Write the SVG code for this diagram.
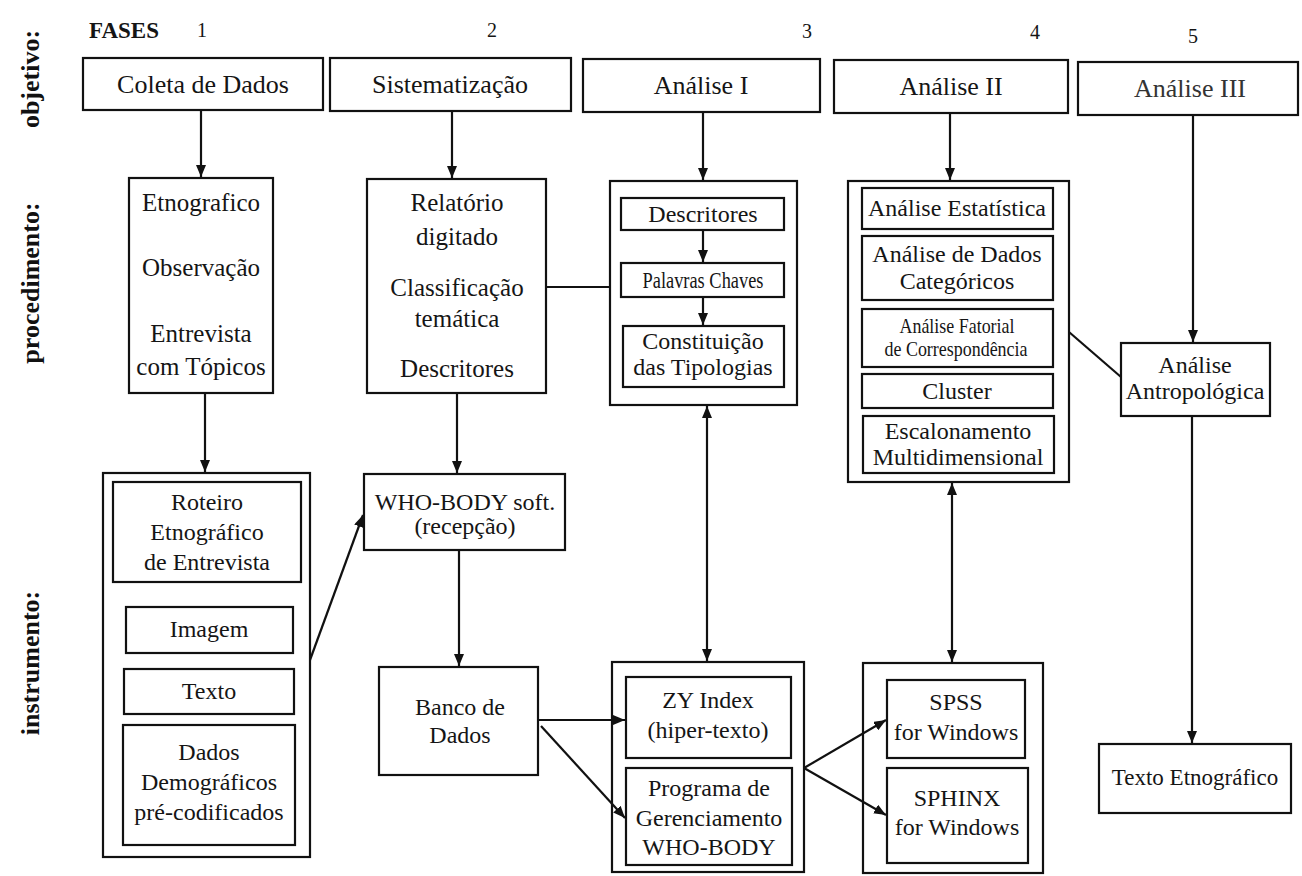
<svg xmlns="http://www.w3.org/2000/svg" width="1302" height="876" viewBox="0 0 1302 876">
<style>
.bx{fill:none;stroke:#111;stroke-width:2.2}
.t{font-family:"Liberation Serif","Times New Roman",serif;font-size:24px;fill:#151515;text-anchor:middle;dominant-baseline:central}
.o{font-size:26px}
.p{font-size:25px}
.h{font-family:"Liberation Serif","Times New Roman",serif;font-size:20px;fill:#151515;text-anchor:middle}
.lb{font-family:"Liberation Serif","Times New Roman",serif;font-size:26px;font-weight:bold;fill:#111;text-anchor:middle;dominant-baseline:central}
.c{fill:none;stroke:#111;stroke-width:2.2}
.a{marker-end:url(#ah)}
.d{marker-start:url(#ah);marker-end:url(#ah)}
</style>
<defs>
<marker id="ah" viewBox="0 0 12 10" refX="12" refY="5" markerWidth="12" markerHeight="10" markerUnits="userSpaceOnUse" orient="auto-start-reverse">
<path d="M0,0 L12,5 L0,10 z" fill="#111"/>
</marker>
</defs>
<rect width="1302" height="876" fill="#fff"/>

<g id="header">
<text x="124" y="38" class="h" style="font-weight:bold;font-size:23px">FASES</text>
<text x="202" y="37" class="h">1</text>
<text x="492" y="37" class="h">2</text>
<text x="807" y="38" class="h">3</text>
<text x="1035" y="39" class="h">4</text>
<text x="1193" y="43" class="h">5</text>
</g>

<g id="row-labels">
<text class="lb" transform="translate(30,79) rotate(-90)">objetivo:</text>
<text class="lb" transform="translate(30,283) rotate(-90)">procedimento:</text>
<text class="lb" transform="translate(30,663) rotate(-90)">instrumento:</text>
</g>

<g id="obj-coleta"><rect class="bx" x="83" y="58" width="240" height="52"/><text class="t o" x="203" y="84">Coleta de Dados</text></g>
<g id="obj-sistematizacao"><rect class="bx" x="330" y="58" width="241" height="53"/><text class="t o" x="450" y="84">Sistematização</text></g>
<g id="obj-analise1"><rect class="bx" x="583" y="59" width="237" height="53"/><text class="t o" x="701" y="85">Análise I</text></g>
<g id="obj-analise2"><rect class="bx" x="834" y="60" width="234" height="53"/><text class="t o" x="951" y="86">Análise II</text></g>
<g id="obj-analise3"><rect class="bx" x="1078" y="62" width="220" height="53"/><text class="t o" x="1190" y="88" style="fill:#333">Análise III</text></g>

<g id="proc-etnografico"><rect class="bx" x="129" y="178" width="144" height="215"/>
<text class="t p" x="201" y="202">Etnografico</text>
<text class="t p" x="201" y="267">Observação</text>
<text class="t p" x="201" y="333">Entrevista</text>
<text class="t p" x="201" y="366">com Tópicos</text></g>

<g id="proc-relatorio"><rect class="bx" x="367" y="179" width="179" height="214"/>
<text class="t p" x="457" y="202">Relatório</text>
<text class="t p" x="457" y="236">digitado</text>
<text class="t p" x="457" y="287">Classificação</text>
<text class="t p" x="457" y="318">temática</text>
<text class="t p" x="457" y="368">Descritores</text></g>

<g id="proc-analise1"><rect class="bx" x="610" y="181" width="187" height="224"/>
<rect class="bx" x="621" y="198" width="163" height="32"/><text class="t" x="703" y="214">Descritores</text>
<rect class="bx" x="621" y="263" width="163" height="34"/><text class="t" x="703" y="280" textLength="121" lengthAdjust="spacingAndGlyphs" style="font-size:23px">Palavras Chaves</text>
<rect class="bx" x="623" y="326" width="161" height="61"/><text class="t" x="703" y="341">Constituição</text><text class="t" x="703" y="367">das Tipologias</text></g>

<g id="proc-analise2"><rect class="bx" x="848" y="181" width="221" height="301"/>
<rect class="bx" x="862" y="188" width="191" height="41"/><text class="t" x="957" y="208">Análise Estatística</text>
<rect class="bx" x="862" y="236" width="191" height="64"/><text class="t" x="957" y="254">Análise de Dados</text><text class="t" x="957" y="281">Categóricos</text>
<rect class="bx" x="862" y="309" width="191" height="58"/><text class="t" x="957" y="325" textLength="115" lengthAdjust="spacingAndGlyphs" style="font-size:22px">Análise Fatorial</text><text class="t" x="956" y="348" textLength="143" lengthAdjust="spacingAndGlyphs" style="font-size:22px">de Correspondência</text>
<rect class="bx" x="862" y="374" width="191" height="34"/><text class="t" x="957" y="391">Cluster</text>
<rect class="bx" x="863" y="416" width="191" height="57"/><text class="t" x="958" y="431">Escalonamento</text><text class="t" x="958" y="457">Multidimensional</text></g>

<g id="proc-antropologica"><rect class="bx" x="1121" y="343" width="149" height="73"/>
<text class="t" x="1195" y="365">Análise</text><text class="t" x="1195" y="391">Antropológica</text></g>

<g id="inst-col1"><rect class="bx" x="103" y="473" width="207" height="384"/>
<rect class="bx" x="113" y="482" width="188" height="100"/><text class="t" x="207" y="502">Roteiro</text><text class="t" x="207" y="532">Etnográfico</text><text class="t" x="207" y="562">de Entrevista</text>
<rect class="bx" x="126" y="607" width="167" height="46"/><text class="t" x="209" y="629">Imagem</text>
<rect class="bx" x="124" y="669" width="170" height="45"/><text class="t" x="209" y="691">Texto</text>
<rect class="bx" x="123" y="725" width="172" height="120"/><text class="t" x="209" y="752">Dados</text><text class="t" x="209" y="782">Demográficos</text><text class="t" x="209" y="812">pré-codificados</text></g>

<g id="inst-whobody"><rect class="bx" x="364" y="474" width="201" height="76"/>
<text class="t" x="465" y="502">WHO-BODY soft.</text><text class="t" x="465" y="526">(recepção)</text></g>

<g id="inst-banco"><rect class="bx" x="379" y="667" width="159" height="108"/>
<text class="t" x="460" y="707">Banco de</text><text class="t" x="460" y="735">Dados</text></g>

<g id="inst-zy"><rect class="bx" x="612" y="662" width="192" height="210"/>
<rect class="bx" x="626" y="677" width="165" height="81"/><text class="t" x="708" y="700">ZY Index</text><text class="t" x="708" y="730">(hiper-texto)</text>
<rect class="bx" x="626" y="768" width="166" height="97"/><text class="t" x="709" y="788">Programa de</text><text class="t" x="709" y="818">Gerenciamento</text><text class="t" x="709" y="847">WHO-BODY</text></g>

<g id="inst-spss"><rect class="bx" x="863" y="663" width="180" height="210"/>
<rect class="bx" x="887" y="680" width="138" height="78"/><text class="t" x="956" y="702">SPSS</text><text class="t" x="956" y="732">for Windows</text>
<rect class="bx" x="887" y="768" width="141" height="95"/><text class="t" x="957" y="798">SPHINX</text><text class="t" x="957" y="827">for Windows</text></g>

<g id="inst-texto-etnografico"><rect class="bx" x="1099" y="744" width="192" height="69"/>
<text class="t" x="1195" y="777" style="font-size:23px">Texto Etnográfico</text></g>

<g id="connectors">
<line class="c a" x1="201" y1="110" x2="201" y2="177"/>
<line class="c a" x1="452" y1="111" x2="452" y2="178"/>
<line class="c a" x1="703" y1="112" x2="703" y2="180"/>
<line class="c a" x1="950" y1="113" x2="950" y2="180"/>
<line class="c a" x1="1193" y1="115" x2="1193" y2="342"/>
<line class="c a" x1="703" y1="230" x2="703" y2="262"/>
<line class="c a" x1="703" y1="297" x2="703" y2="325"/>
<line class="c" x1="546" y1="287" x2="610" y2="287"/>
<line class="c" x1="1069" y1="332" x2="1121" y2="377"/>
<line class="c a" x1="205" y1="393" x2="205" y2="472"/>
<line class="c a" x1="457" y1="393" x2="457" y2="473"/>
<line class="c a" x1="310" y1="660" x2="363" y2="515"/>
<line class="c a" x1="459" y1="550" x2="459" y2="666"/>
<line class="c a" x1="539" y1="720" x2="625" y2="720"/>
<line class="c a" x1="541" y1="726" x2="625" y2="818"/>
<line class="c d" x1="707" y1="406" x2="707" y2="661"/>
<line class="c d" x1="952" y1="483" x2="952" y2="662"/>
<line class="c a" x1="804" y1="768" x2="886" y2="720"/>
<line class="c a" x1="804" y1="768" x2="886" y2="815"/>
<line class="c a" x1="1192" y1="416" x2="1192" y2="743"/>
</g>
</svg>
